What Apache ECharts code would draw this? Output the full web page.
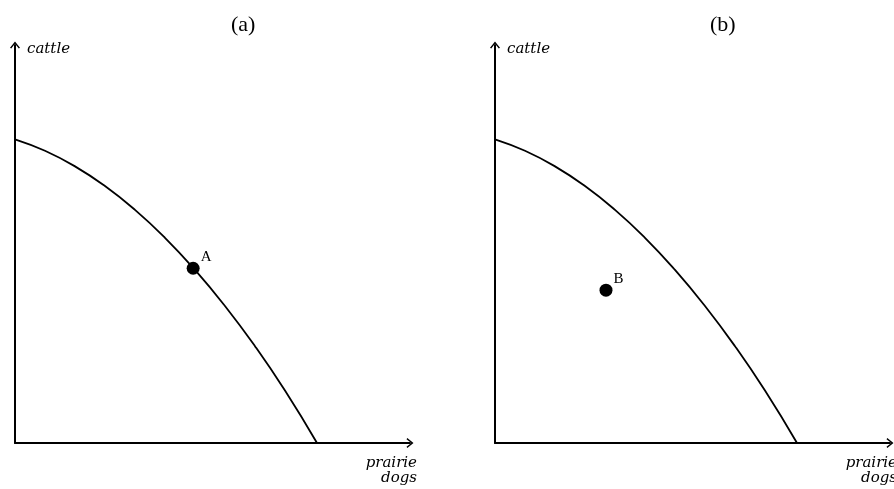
<!DOCTYPE html>
<html>
<head>
<meta charset="utf-8">
<script src="https://cdn.jsdelivr.net/npm/echarts@6/dist/echarts.min.js"></script>
<style>
  html, body { margin: 0; padding: 0; background: #fff; }
  #chart { width: 894px; height: 489px; }
</style>
</head>
<body>
<div id="chart"></div>
<script>
// production possibilities frontier, same curve in both panels
var frontierX = [0, 7.59, 15.19, 22.78, 30.38, 37.97, 45.57, 53.16, 60.76, 68.35, 76.46];
var frontierY = [76.31, 73.42, 69.50, 64.55, 58.57, 51.56, 43.49, 34.42, 24.32, 13.17, 0];
var pointA = [45.1, 43.9];
var pointB = [28.1, 38.4];
var panelTitles = ['(a)', '(b)'];

var frontier = frontierX.map(function (x, i) { return [x, frontierY[i]]; });

// open chevron, pointing up (ECharts rotates it along the axis)
var arrowPath = 'path://M0,62 L50,0 L100,62 L88,70 L50,22 L12,70 Z';

function axisOf(gridIndex) {
  return {
    gridIndex: gridIndex,
    type: 'value',
    min: 0,
    max: 100,
    splitLine: { show: false },
    axisTick: { show: false },
    axisLabel: { show: false },
    axisLine: {
      show: true,
      symbol: ['none', arrowPath],
      symbolSize: [10, 8],
      lineStyle: { color: '#000', width: 2 }
    }
  };
}

function frontierSeries(i) {
  return {
    type: 'line',
    xAxisIndex: i,
    yAxisIndex: i,
    data: frontier,
    smooth: true,
    symbol: 'none',
    lineStyle: { color: '#000', width: 1.8 },
    silent: true
  };
}

function dotSeries(i, pt, name) {
  return {
    type: 'scatter',
    xAxisIndex: i,
    yAxisIndex: i,
    data: [pt],
    symbolSize: 13,
    itemStyle: { color: '#000', opacity: 1 },
    label: {
      show: true,
      position: 'right',
      distance: 1,
      offset: [0, -11],
      formatter: name,
      color: '#000',
      fontFamily: 'Liberation Serif',
      fontSize: 15
    }
  };
}

var serif = 'Liberation Serif';
var italicStyle = { fill: '#000', font: 'italic 15px "DejaVu Serif"' };

var chart = echarts.init(document.getElementById('chart'));
chart.setOption({
  animation: false,
  backgroundColor: '#fff',
  grid: [
    { left: 15, top: 45, width: 395, height: 398 },
    { left: 495, top: 45, width: 395, height: 398 }
  ],
  xAxis: [axisOf(0), axisOf(1)],
  yAxis: [axisOf(0), axisOf(1)],
  graphic: [
    { type: 'text', left: 231, top: 14, style: { text: panelTitles[0], fill: '#000', font: '22px "' + serif + '"' } },
    { type: 'text', left: 710, top: 14, style: { text: panelTitles[1], fill: '#000', font: '22px "' + serif + '"' } },
    { type: 'text', x: 27, y: 42, style: Object.assign({ text: 'cattle' }, italicStyle) },
    { type: 'text', x: 507, y: 42, style: Object.assign({ text: 'cattle' }, italicStyle) },
    { type: 'text', x: 417, y: 456, style: Object.assign({ text: 'prairie\ndogs', textAlign: 'right', lineHeight: 15 }, italicStyle) },
    { type: 'text', x: 897, y: 456, style: Object.assign({ text: 'prairie\ndogs', textAlign: 'right', lineHeight: 15 }, italicStyle) }
  ],
  series: [
    frontierSeries(0),
    dotSeries(0, pointA, 'A'),
    frontierSeries(1),
    dotSeries(1, pointB, 'B')
  ]
});
</script>
</body>
</html>
